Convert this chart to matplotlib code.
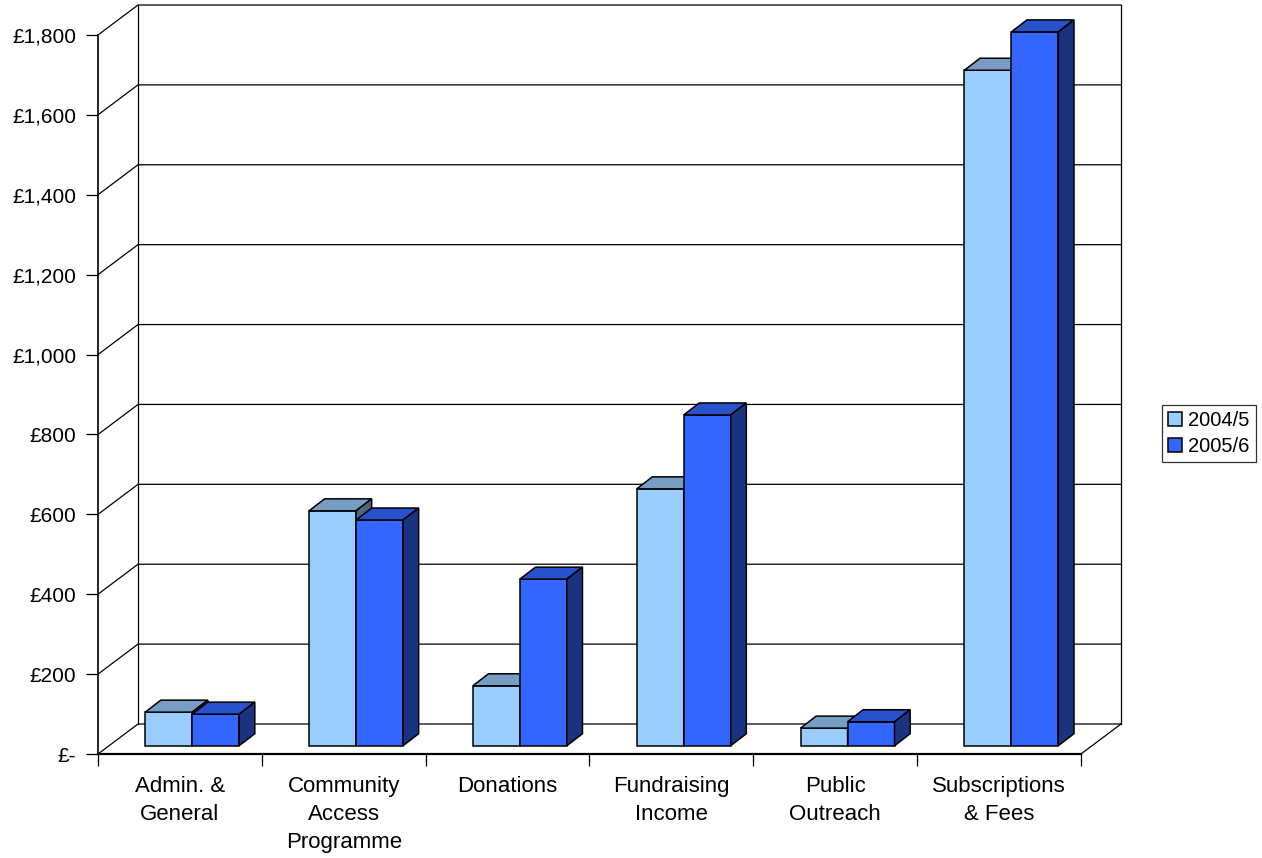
import matplotlib
matplotlib.use("Agg")
import matplotlib.pyplot as plt
from matplotlib.patches import Polygon, Patch

plt.rcParams['font.family'] = ['Liberation Sans', 'DejaVu Sans']

categories = ["Admin. &\nGeneral", "Community\nAccess\nProgramme", "Donations",
              "Fundraising\nIncome", "Public\nOutreach", "Subscriptions\n& Fees"]
series_names = ["2004/5", "2005/6"]
values_2004 = [84, 588, 150, 643, 44, 1691]
values_2005 = [79, 565, 417, 828, 60, 1787]
y_ticks = [0, 200, 400, 600, 800, 1000, 1200, 1400, 1600, 1800]

front_colors = ['#99CCFF', '#3366FF']
top_colors = ['#789DC2', '#2851CC']
side_colors = ['#4D6680', '#1A3380']

W, H = 1262, 858
fig = plt.figure(figsize=(W / 100, H / 100), dpi=100)
# front plane of the plot: x 98..1081 px, y 35..754 px (from top)
ax = fig.add_axes([98 / W, (H - 754) / H, 983 / W, 719 / H])
ax.set_xlim(-0.5, len(categories) - 0.5)
ax.set_ylim(0, 1800)

px_x = 983 / len(categories)      # pixels per category
px_y = 719 / 1800                 # pixels per value unit
wall_dx, wall_dy = 40 / px_x, 30 / px_y   # full depth of the floor
bar_dx, bar_dy = 12.3 / px_x, 8.3 / px_y  # bar front plane offset
dep_dx, dep_dy = 15.6 / px_x, 12 / px_y   # bar depth
bar_w = 47 / px_x

x0, x1 = -0.5, len(categories) - 0.5
lk = dict(color='black', lw=0.9, clip_on=False, zorder=1)
# back wall, side wall and gridlines
for v in y_ticks:
    ax.plot([x0, x0 + wall_dx, x1 + wall_dx], [v, v + wall_dy, v + wall_dy], **lk)
ax.plot([x0 + wall_dx, x0 + wall_dx], [wall_dy, 1800 + wall_dy], **lk)
ax.plot([x1 + wall_dx, x1 + wall_dx], [wall_dy, 1800 + wall_dy], **lk)
ax.plot([x1, x1 + wall_dx], [0, wall_dy], **lk)

# bars with fake 3D faces
z = 3
for i in range(len(categories)):
    c = i + bar_dx
    for s, vals in enumerate([values_2004, values_2005]):
        left = c - bar_w if s == 0 else c
        v = vals[i]
        ax.bar(left, v, width=bar_w, bottom=bar_dy, align='edge',
               color=front_colors[s], edgecolor='black', linewidth=1.1,
               clip_on=False, zorder=z)
        top = bar_dy + v
        right = left + bar_w
        ax.add_patch(Polygon([(left, top), (right, top), (right + dep_dx, top + dep_dy),
                              (left + dep_dx, top + dep_dy)], closed=True,
                             facecolor=top_colors[s], edgecolor='black', lw=1.1,
                             clip_on=False, zorder=z))
        ax.add_patch(Polygon([(right, bar_dy), (right, top), (right + dep_dx, top + dep_dy),
                              (right + dep_dx, bar_dy + dep_dy)], closed=True,
                             facecolor=side_colors[s], edgecolor='black', lw=1.1,
                             clip_on=False, zorder=z))
        z += 0.01

# axes
for sp in ['top', 'right']:
    ax.spines[sp].set_visible(False)
ax.spines['left'].set_linewidth(1.2)
ax.spines['bottom'].set_linewidth(1.6)
ax.set_yticks(y_ticks)
ax.set_yticklabels(["£-" if v == 0 else f"£{v:,}" for v in y_ticks], fontsize=15)
ax.tick_params(axis='y', length=8.6, width=0.9, pad=7)
ax.set_xticks([i - 0.5 for i in range(len(categories) + 1)])
ax.set_xticklabels([])
ax.tick_params(axis='x', which='major', length=8.6, width=0.9)
ax.set_xticks(range(len(categories)), minor=True)
ax.set_xticklabels(categories, minor=True, fontsize=16)
for lbl in ax.get_xticklabels(minor=True):
    lbl.set_linespacing(1.42)
ax.tick_params(axis='x', which='minor', length=0, pad=16)
ax.patch.set_visible(False)

handles = [Patch(facecolor=front_colors[s], edgecolor='black', lw=1.1) for s in range(2)]
leg = fig.legend(handles, series_names, loc='center left', fontsize=14.5,
                 bbox_to_anchor=(1162 / W, 1 - 433.5 / H), bbox_transform=fig.transFigure,
                 borderaxespad=0, fancybox=False, frameon=True, handlelength=0.7,
                 handleheight=0.7, handletextpad=0.3, borderpad=0.3, labelspacing=0.35)
leg.get_frame().set_edgecolor('black')
leg.get_frame().set_linewidth(0.9)

fig.savefig("out.png", dpi=100)
